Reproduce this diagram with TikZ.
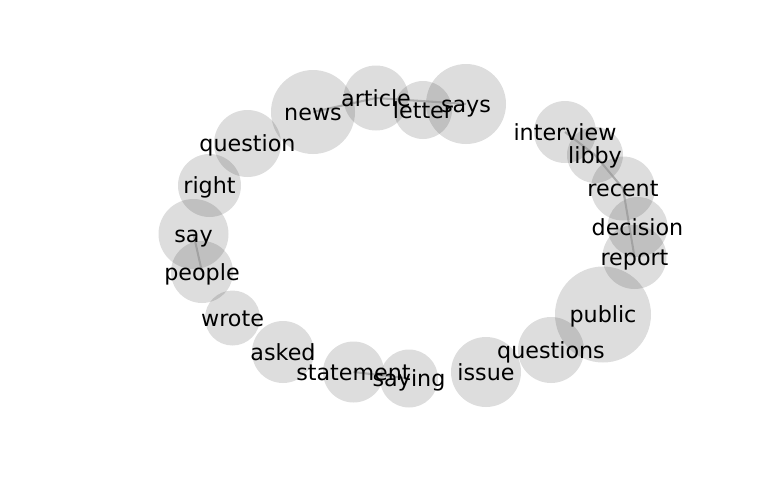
\documentclass[tikz,border=0pt]{standalone}
\usepackage{fontspec}
\setmainfont{DejaVu Sans}
\begin{document}
\begin{tikzpicture}[x=0.72pt,y=-0.72pt,
  bub/.style={circle,inner sep=0pt,fill=black,fill opacity=0.135,draw=none,minimum size=#1*0.72pt},
  lab/.style={inner sep=0pt,text height=13.5pt,text depth=1.75pt,font=\fontsize{16pt}{19pt}\selectfont},
  edge/.style={draw={rgb,255:red,150;green,150;blue,150},line width=1.5pt,opacity=0.7}]
\useasboundingbox (0,0) rectangle (768,500);
% circles
\node[bub=84] (news) at (313,112) {};
\node[bub=65] (article) at (376,98) {};
\node[bub=58] (letter) at (423,110) {};
\node[bub=80] (says) at (466,104) {};
\node[bub=67] (question) at (247.5,143.5) {};
\node[bub=63] (right) at (209.5,185.5) {};
\node[bub=70] (say) at (193.5,234) {};
\node[bub=62] (people) at (202,272) {};
\node[bub=55] (wrote) at (232.5,318) {};
\node[bub=62] (asked) at (283,352) {};
\node[bub=61] (statement) at (353.5,372) {};
\node[bub=58] (saying) at (409,378.5) {};
\node[bub=70] (issue) at (486,372) {};
\node[bub=66] (questions) at (551,350) {};
\node[bub=96] (public) at (603,314.5) {};
\node[bub=64] (report) at (634.5,257) {};
\node[bub=60] (decision) at (637.5,227) {};
\node[bub=64] (recent) at (623,188.5) {};
\node[bub=56] (libby) at (595,155) {};
\node[bub=62] (interview) at (565,132) {};
% edges
\draw[edge] (news.center) -- (article.center);
\draw[edge] (article.center) -- (says.center);
\draw[edge] (say.center) -- (people.center);
\draw[edge] (statement.center) -- (saying.center);
\draw[edge] (interview.center) -- (libby.center);
\draw[edge] (libby.center) -- (recent.center);
\draw[edge] (recent.center) -- (report.center);
% labels
\node[lab] (news-l) at (news) {news};
\node[lab] (article-l) at (article) {article};
\node[lab] (letter-l) at (letter) {letter};
\node[lab] (says-l) at (says) {says};
\node[lab] (question-l) at (question) {question};
\node[lab] (right-l) at (right) {right};
\node[lab] (say-l) at (say) {say};
\node[lab] (people-l) at (people) {people};
\node[lab] (wrote-l) at (wrote) {wrote};
\node[lab] (asked-l) at (asked) {asked};
\node[lab] (statement-l) at (statement) {statement};
\node[lab] (saying-l) at (saying) {saying};
\node[lab] (issue-l) at (issue) {issue};
\node[lab] (questions-l) at (questions) {questions};
\node[lab] (public-l) at (public) {public};
\node[lab] (report-l) at (report) {report};
\node[lab] (decision-l) at (decision) {decision};
\node[lab] (recent-l) at (recent) {recent};
\node[lab] (libby-l) at (libby) {libby};
\node[lab] (interview-l) at (interview) {interview};
\end{tikzpicture}
\end{document}
